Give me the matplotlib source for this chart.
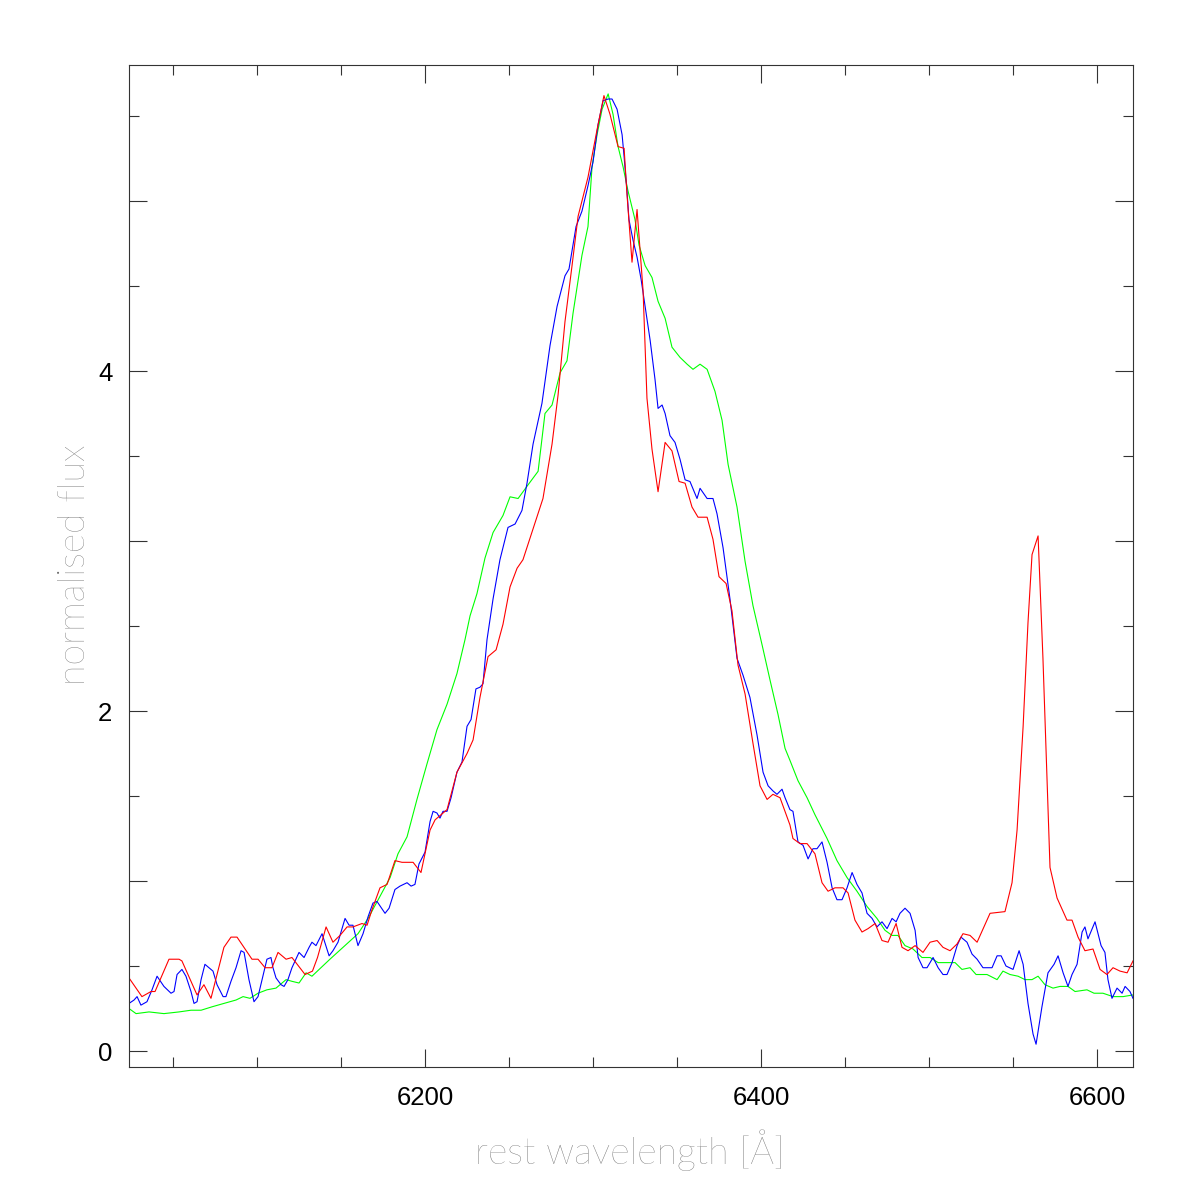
import matplotlib
matplotlib.use("Agg")
import matplotlib.pyplot as plt
from matplotlib.ticker import MultipleLocator, FixedLocator, FixedFormatter

# ---- data ----
blue_wl = [6023.8, 6026.8, 6028.6, 6030.9, 6034.5, 6037.5, 6040.5, 6044.6, 6048.8, 6050.6,
           6052.4, 6055.3, 6057.7, 6060.7, 6062.5, 6064.3, 6066.7, 6069.0, 6071.4, 6073.8,
           6076.2, 6079.8, 6081.5, 6084.5, 6087.5, 6090.5, 6092.3, 6095.2, 6098.2, 6100.6,
           6103.5, 6105.9, 6108.3, 6109.5, 6111.3, 6114.3, 6116.1, 6118.4, 6120.8, 6125.0,
           6128.0, 6131.0, 6132.7, 6135.1, 6138.7, 6142.9, 6145.2, 6148.2, 6152.4, 6154.8,
           6157.1, 6160.1, 6163.1, 6166.1, 6169.0, 6171.4, 6176.2, 6178.6, 6182.1, 6185.1,
           6189.3, 6191.7, 6194.0, 6196.4, 6200.0, 6203.0, 6204.8, 6207.1, 6208.9, 6210.7,
           6213.1, 6215.5, 6219.0, 6222.0, 6225.0, 6227.4, 6230.3, 6232.7, 6234.5, 6236.9,
           6240.5, 6244.6, 6249.4, 6253.6, 6257.7, 6260.7, 6264.3, 6269.6, 6274.4, 6278.6,
           6283.3, 6285.7, 6289.9, 6293.4, 6297.0, 6300.0, 6303.0, 6306.0, 6309.0, 6311.3,
           6314.3, 6317.3, 6318.5, 6320.2, 6321.4, 6323.8, 6326.2, 6328.6, 6334.0, 6336.9,
           6338.7, 6341.1, 6342.9, 6345.8, 6348.8, 6351.8, 6354.8, 6357.7, 6361.9, 6363.7,
           6367.9, 6371.4, 6373.8, 6377.4, 6381.5, 6385.7, 6389.3, 6393.4, 6397.6, 6401.2,
           6404.2, 6407.1, 6409.5, 6412.5, 6414.3, 6417.2, 6419.0, 6422.0, 6425.0, 6428.0,
           6430.9, 6433.3, 6436.3, 6439.3, 6442.3, 6445.2, 6448.2, 6451.2, 6454.2, 6457.1,
           6460.1, 6463.1, 6466.1, 6469.0, 6472.0, 6475.0, 6478.0, 6480.4, 6482.7, 6485.7,
           6488.7, 6491.7, 6493.5, 6496.4, 6498.8, 6502.4, 6505.4, 6508.3, 6510.7, 6513.7,
           6516.7, 6519.0, 6522.6, 6525.6, 6528.6, 6532.1, 6537.5, 6540.5, 6542.9, 6545.8,
           6550.0, 6553.6, 6556.0, 6558.9, 6561.9, 6563.7, 6567.2, 6570.8, 6574.4, 6576.8,
           6579.8, 6582.7, 6585.1, 6588.1, 6591.1, 6592.8, 6594.6, 6598.8, 6602.4, 6604.7,
           6606.5, 6608.9, 6611.9, 6614.9, 6616.7, 6619.6, 6621.4]
blue_flux = [0.28, 0.30, 0.32, 0.27, 0.29, 0.36, 0.44, 0.38, 0.34, 0.35,
             0.45, 0.48, 0.44, 0.35, 0.28, 0.29, 0.42, 0.51, 0.49, 0.47,
             0.39, 0.32, 0.32, 0.41, 0.49, 0.59, 0.58, 0.42, 0.29, 0.32,
             0.44, 0.54, 0.55, 0.49, 0.43, 0.39, 0.38, 0.42, 0.49, 0.58,
             0.55, 0.61, 0.64, 0.62, 0.69, 0.56, 0.59, 0.64, 0.78, 0.74,
             0.74, 0.62, 0.69, 0.79, 0.87, 0.88, 0.81, 0.84, 0.95, 0.97,
             0.99, 0.97, 0.98, 1.10, 1.17, 1.35, 1.41, 1.40, 1.37, 1.41,
             1.41, 1.49, 1.64, 1.70, 1.91, 1.95, 2.13, 2.14, 2.16, 2.42,
             2.66, 2.89, 3.08, 3.10, 3.18, 3.34, 3.57, 3.81, 4.15, 4.38,
             4.56, 4.60, 4.85, 4.94, 5.09, 5.23, 5.45, 5.59, 5.60, 5.60,
             5.54, 5.39, 5.26, 5.06, 4.89, 4.77, 4.67, 4.54, 4.18, 3.95,
             3.78, 3.80, 3.75, 3.62, 3.58, 3.48, 3.36, 3.35, 3.25, 3.31,
             3.25, 3.25, 3.16, 2.96, 2.66, 2.31, 2.21, 2.08, 1.86, 1.64,
             1.56, 1.53, 1.51, 1.54, 1.49, 1.42, 1.41, 1.23, 1.21, 1.13,
             1.19, 1.19, 1.23, 1.11, 0.96, 0.89, 0.89, 0.96, 1.05, 0.98,
             0.93, 0.81, 0.78, 0.73, 0.76, 0.72, 0.78, 0.76, 0.81, 0.84,
             0.81, 0.71, 0.55, 0.49, 0.49, 0.55, 0.49, 0.45, 0.45, 0.52,
             0.62, 0.67, 0.64, 0.57, 0.54, 0.49, 0.49, 0.56, 0.56, 0.50,
             0.48, 0.59, 0.51, 0.28, 0.10, 0.04, 0.26, 0.46, 0.51, 0.56,
             0.46, 0.38, 0.45, 0.51, 0.70, 0.73, 0.66, 0.76, 0.62, 0.58,
             0.42, 0.31, 0.37, 0.34, 0.38, 0.35, 0.31]

red_wl = [6023.8, 6031.5, 6036.9, 6039.3, 6047.6, 6053.6, 6055.3, 6064.3, 6068.4, 6072.6,
          6080.3, 6084.5, 6088.1, 6097.0, 6100.6, 6104.8, 6108.9, 6112.5, 6117.3, 6120.8,
          6128.6, 6133.0, 6136.0, 6141.1, 6145.2, 6149.4, 6153.6, 6157.1, 6162.5, 6165.5,
          6168.4, 6173.2, 6177.4, 6182.1, 6186.3, 6192.9, 6197.6, 6203.0, 6206.0, 6213.1,
          6219.0, 6225.0, 6228.6, 6232.7, 6237.5, 6242.3, 6246.4, 6250.6, 6254.8, 6258.3,
          6270.2, 6275.6, 6279.2, 6283.3, 6287.5, 6291.1, 6297.0, 6302.4, 6306.5, 6310.1,
          6314.9, 6318.5, 6320.2, 6323.2, 6326.2, 6329.8, 6332.1, 6335.1, 6338.7, 6342.9,
          6347.0, 6351.2, 6354.8, 6358.9, 6362.5, 6367.9, 6371.4, 6375.0, 6379.2, 6382.7,
          6386.3, 6390.5, 6395.2, 6399.4, 6403.6, 6407.1, 6411.3, 6417.2, 6419.0, 6423.2,
          6427.4, 6432.1, 6436.3, 6439.9, 6444.0, 6448.8, 6451.8, 6455.9, 6460.1, 6463.7,
          6467.9, 6472.0, 6475.6, 6480.4, 6483.9, 6487.5, 6491.7, 6496.4, 6500.6, 6504.8,
          6508.3, 6512.5, 6516.7, 6520.2, 6524.4, 6528.6, 6536.3, 6545.2, 6549.4, 6552.4,
          6556.0, 6558.9, 6561.3, 6564.9, 6567.8, 6572.0, 6576.2, 6582.1, 6585.1, 6588.7,
          6592.8, 6597.6, 6601.8, 6605.9, 6609.5, 6613.7, 6617.9, 6621.4]
red_flux = [0.43, 0.32, 0.35, 0.35, 0.54, 0.54, 0.53, 0.33, 0.39, 0.31,
            0.61, 0.67, 0.67, 0.54, 0.54, 0.49, 0.49, 0.58, 0.54, 0.55,
            0.45, 0.47, 0.55, 0.73, 0.64, 0.68, 0.73, 0.73, 0.75, 0.74,
            0.83, 0.96, 0.98, 1.12, 1.11, 1.11, 1.05, 1.30, 1.36, 1.42,
            1.64, 1.75, 1.83, 2.08, 2.32, 2.36, 2.51, 2.73, 2.84, 2.89,
            3.25, 3.57, 3.86, 4.29, 4.62, 4.91, 5.14, 5.42, 5.62, 5.51,
            5.32, 5.31, 5.04, 4.64, 4.95, 4.47, 3.84, 3.54, 3.29, 3.58,
            3.53, 3.35, 3.34, 3.20, 3.14, 3.14, 3.01, 2.79, 2.75, 2.59,
            2.27, 2.10, 1.81, 1.56, 1.48, 1.51, 1.49, 1.33, 1.25, 1.22,
            1.22, 1.16, 0.99, 0.94, 0.96, 0.96, 0.93, 0.77, 0.70, 0.72,
            0.75, 0.65, 0.64, 0.75, 0.61, 0.59, 0.62, 0.58, 0.64, 0.65,
            0.61, 0.59, 0.63, 0.69, 0.68, 0.64, 0.81, 0.82, 0.99, 1.30,
            1.91, 2.52, 2.92, 3.03, 2.31, 1.08, 0.90, 0.77, 0.77, 0.67,
            0.59, 0.60, 0.48, 0.45, 0.49, 0.47, 0.46, 0.53]

green_wl = [6023.8, 6028.0, 6035.7, 6044.6, 6053.6, 6060.7, 6066.7, 6073.2, 6080.3, 6087.5,
            6091.7, 6095.8, 6100.6, 6105.9, 6111.3, 6117.3, 6120.8, 6125.0, 6129.2, 6132.7,
            6143.4, 6151.2, 6160.1, 6166.1, 6173.2, 6179.2, 6183.9, 6189.3, 6195.2, 6201.2,
            6207.1, 6213.1, 6219.0, 6223.8, 6226.8, 6230.9, 6235.7, 6240.5, 6246.4, 6250.6,
            6255.4, 6261.3, 6267.3, 6271.4, 6275.6, 6280.4, 6284.5, 6288.1, 6293.4, 6297.0,
            6299.4, 6302.4, 6305.4, 6309.0, 6311.9, 6314.9, 6317.9, 6320.8, 6325.0, 6327.4,
            6331.0, 6335.1, 6338.7, 6342.9, 6347.0, 6351.8, 6356.0, 6359.5, 6363.7, 6367.9,
            6372.6, 6376.8, 6380.4, 6385.7, 6390.5, 6395.2, 6400.6, 6405.4, 6410.1, 6414.3,
            6417.2, 6422.0, 6427.4, 6432.1, 6439.3, 6445.2, 6451.2, 6457.1, 6463.1, 6469.0,
            6473.8, 6478.0, 6481.5, 6485.7, 6490.5, 6495.8, 6500.6, 6505.4, 6511.3, 6515.5,
            6519.6, 6524.4, 6528.0, 6534.5, 6540.5, 6544.0, 6548.2, 6553.0, 6557.1, 6561.3,
            6564.9, 6569.0, 6573.8, 6578.0, 6582.7, 6586.9, 6594.0, 6598.2, 6603.5, 6609.5,
            6615.5, 6621.4]
green_flux = [0.25, 0.22, 0.23, 0.22, 0.23, 0.24, 0.24, 0.26, 0.28, 0.30,
              0.32, 0.31, 0.34, 0.36, 0.37, 0.42, 0.41, 0.40, 0.46, 0.44,
              0.54, 0.61, 0.69, 0.78, 0.91, 1.02, 1.16, 1.26, 1.48, 1.69,
              1.89, 2.04, 2.22, 2.42, 2.56, 2.69, 2.90, 3.05, 3.15, 3.26,
              3.25, 3.33, 3.41, 3.75, 3.80, 3.99, 4.06, 4.34, 4.68, 4.85,
              5.20, 5.39, 5.54, 5.63, 5.51, 5.32, 5.20, 5.06, 4.89, 4.74,
              4.62, 4.55, 4.41, 4.31, 4.14, 4.08, 4.04, 4.01, 4.04, 4.01,
              3.88, 3.71, 3.45, 3.20, 2.88, 2.62, 2.39, 2.18, 1.98, 1.78,
              1.71, 1.59, 1.49, 1.39, 1.25, 1.12, 1.02, 0.94, 0.85, 0.78,
              0.71, 0.68, 0.68, 0.62, 0.60, 0.55, 0.55, 0.52, 0.52, 0.52,
              0.48, 0.49, 0.45, 0.45, 0.42, 0.47, 0.45, 0.44, 0.42, 0.42,
              0.44, 0.39, 0.37, 0.38, 0.38, 0.35, 0.36, 0.34, 0.34, 0.32,
              0.32, 0.33]

x_major = [6200, 6400, 6600]
x_labels = ["6200", "6400", "6600"]
y_major = [0, 1, 2, 3, 4, 5]
y_labels = ["0", "", "2", "", "4", ""]

# ---- figure ----
fig = plt.figure(figsize=(11.96, 11.96), dpi=100)
ax = fig.add_axes([129/1196, 1 - 1067/1196, (1133 - 129)/1196, (1067 - 65)/1196])

lw = 0.8
ax.plot(green_wl, green_flux, color="#00ff00", lw=lw)
ax.plot(blue_wl, blue_flux, color="#0000ff", lw=lw)
ax.plot(red_wl, red_flux, color="#ff0000", lw=lw)

ax.set_xlim(6023.8, 6621.4)
ax.set_ylim(-0.094, 5.80)

ax.xaxis.set_major_locator(FixedLocator(x_major))
ax.xaxis.set_major_formatter(FixedFormatter(x_labels))
ax.xaxis.set_minor_locator(MultipleLocator(50))
ax.yaxis.set_major_locator(FixedLocator(y_major))
ax.yaxis.set_major_formatter(FixedFormatter(y_labels))
ax.yaxis.set_minor_locator(MultipleLocator(0.5))

ax.tick_params(which="both", direction="in", top=True, right=True, color="#333333", width=0.8)
ax.tick_params(which="major", length=13)
ax.tick_params(which="minor", length=7)
ax.tick_params(axis="x", which="major", pad=14, labelsize=18.5)
ax.tick_params(axis="y", which="major", pad=12, labelsize=18.5)
for lab in ax.get_xticklabels() + ax.get_yticklabels():
    lab.set_fontfamily(["Liberation Sans", "DejaVu Sans"])
for sp in ax.spines.values():
    sp.set_linewidth(0.8)
    sp.set_color("#333333")

fig.text(630/1196, 1 - 1150/1196, "rest wavelength [Å]", ha="center", va="center",
         fontsize=27, color="#6a6a6a", family=["Lato", "DejaVu Sans"], fontweight="light")
fig.text(75/1196, 1 - 565/1196, "normalised flux", ha="center", va="center", rotation=90,
         fontsize=27, color="#6a6a6a", family=["Lato", "DejaVu Sans"], fontweight="light")

fig.savefig("out.png", dpi=100, facecolor="white")
